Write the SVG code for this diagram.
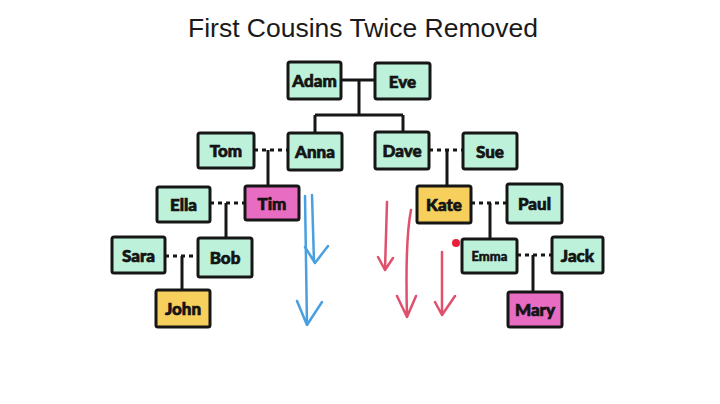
<svg xmlns="http://www.w3.org/2000/svg" width="720" height="404" viewBox="0 0 720 404">
<style>
.box{stroke:#161616;stroke-width:3;stroke-linejoin:round}
.mint{fill:#bdf1da}
.pink{fill:#e96cc3}
.yellow{fill:#f6cf5c}
.lbl{font-family:Lato,"Open Sans",sans-serif;font-weight:900;font-size:17px;fill:#141414;stroke:#141414;stroke-width:0.7;text-anchor:middle;dominant-baseline:central}
.small{font-size:13px;stroke-width:0.5}
.line{fill:none;stroke:#161616;stroke-width:3}
.dash{fill:none;stroke:#161616;stroke-width:3;stroke-dasharray:4 4}
.blue{fill:none;stroke:#4a9fdf;stroke-width:2.5;stroke-linecap:round;stroke-linejoin:round}
.red{fill:none;stroke:#e0506c;stroke-width:2.5;stroke-linecap:round;stroke-linejoin:round}
</style>
<rect width="720" height="404" fill="#ffffff"/>
<text x="363" y="37" font-family="Liberation Sans, Arial, sans-serif" font-size="26.5" fill="#1a1a1a" text-anchor="middle">First Cousins Twice Removed</text>

<g id="connectors">
<path class="line" d="M341,80 H375 M359,80 V115 M315,115 H403 M315,115 V133 M403,115 V132"/>
<path class="dash" d="M254,150 H288 M429,150 H463 M210,203 H245 M471,203 H507 M165,256 H198 M517,255 H552"/>
<path class="line" d="M268,150 V186 M447,150 V186 M226,203 V238 M490,203 V239 M182,256 V290 M533,255 V292"/>
</g>

<g id="arrows">
<path class="blue" d="M312,195 L314,262 M305,247 L315,263 L328,246"/>
<path class="blue" d="M305,196 L307,325 M297,301 L307,325 L322,302"/>
<path class="red" d="M387,202 L385,270 M378,257 L385,270 L393,258"/>
<path class="red" d="M411,210 Q405,240 407,317 M397,296 L407,317 L416,296"/>
<path class="red" d="M442,252 L442,315 M435,302 L442,315 L455,296"/>
<circle cx="456" cy="243" r="4" fill="#e8203c"/>
</g>

<g id="adam"><rect class="box mint" x="288" y="62" width="53" height="37" rx="2"/><text class="lbl" x="314.5" y="80.5">Adam</text></g>
<g id="eve"><rect class="box mint" x="375" y="63" width="55" height="36" rx="2"/><text class="lbl" x="402.5" y="81">Eve</text></g>
<g id="tom"><rect class="box mint" x="198" y="133" width="56" height="35" rx="2"/><text class="lbl" x="226" y="150.5">Tom</text></g>
<g id="anna"><rect class="box mint" x="288" y="133" width="54" height="37" rx="2"/><text class="lbl" x="315" y="151.5">Anna</text></g>
<g id="dave"><rect class="box mint" x="375" y="132" width="54" height="37" rx="2"/><text class="lbl" x="402" y="150.5">Dave</text></g>
<g id="sue"><rect class="box mint" x="463" y="133" width="54" height="36" rx="2"/><text class="lbl" x="490" y="151">Sue</text></g>
<g id="ella"><rect class="box mint" x="157" y="187" width="53" height="35" rx="2"/><text class="lbl" x="183.5" y="204.5">Ella</text></g>
<g id="tim"><rect class="box pink" x="245" y="186" width="54" height="34" rx="2"/><text class="lbl" x="272" y="203">Tim</text></g>
<g id="kate"><rect class="box yellow" x="417" y="186" width="54" height="37" rx="2"/><text class="lbl" x="444" y="204.5">Kate</text></g>
<g id="paul"><rect class="box mint" x="507" y="184" width="55" height="39" rx="2"/><text class="lbl" x="534.5" y="203.5">Paul</text></g>
<g id="sara"><rect class="box mint" x="112" y="237" width="53" height="36" rx="2"/><text class="lbl" x="138.5" y="255">Sara</text></g>
<g id="bob"><rect class="box mint" x="198" y="238" width="54" height="39" rx="2"/><text class="lbl" x="225" y="257.5">Bob</text></g>
<g id="emma"><rect class="box mint" x="462" y="239" width="55" height="34" rx="2"/><text class="lbl small" x="489.5" y="256">Emma</text></g>
<g id="jack"><rect class="box mint" x="552" y="237" width="51" height="36" rx="2"/><text class="lbl" x="577.5" y="255">Jack</text></g>
<g id="john"><rect class="box yellow" x="156" y="290" width="54" height="37" rx="2"/><text class="lbl" x="183" y="308.5">John</text></g>
<g id="mary"><rect class="box pink" x="508" y="292" width="54" height="35" rx="2"/><text class="lbl" x="535" y="309.5">Mary</text></g>
</svg>
